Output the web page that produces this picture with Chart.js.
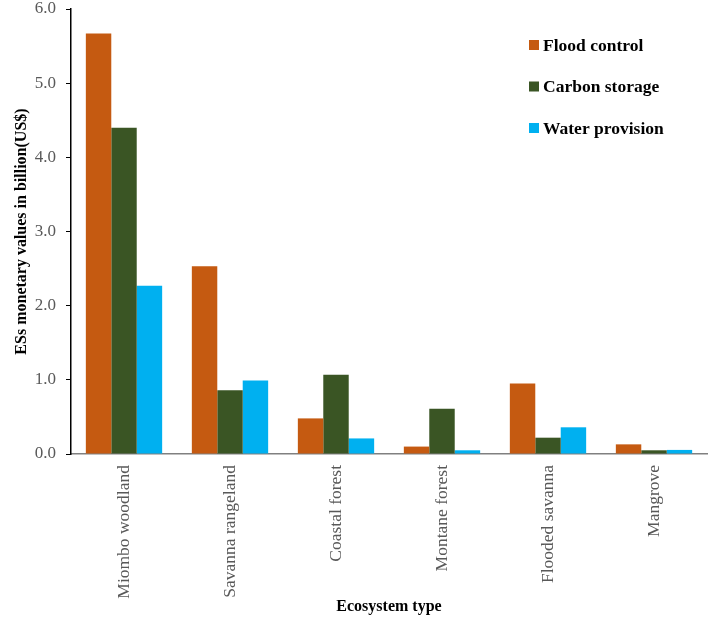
<!DOCTYPE html>
<html>
<head>
<meta charset="utf-8">
<script src="https://cdn.jsdelivr.net/npm/chart.js@4/dist/chart.umd.min.js"></script>
<style>
  html, body { margin: 0; padding: 0; background: #fff; }
  #wrap { width: 709px; height: 642px; }
</style>
</head>
<body>
<div id="wrap"><canvas id="c"></canvas></div>
<script>
// ecosystem types and ES values (billion US$)
const categories = ['Miombo woodland', 'Savanna rangeland', 'Coastal forest', 'Montane forest', 'Flooded savanna', 'Mangrove'];
const floodControl = [5.67, 2.53, 0.48, 0.10, 0.95, 0.13];
const carbonStorage = [4.40, 0.86, 1.07, 0.61, 0.22, 0.05];
const waterProvision = [2.27, 0.99, 0.21, 0.05, 0.36, 0.055];
const seriesNames = ['Flood control', 'Carbon storage', 'Water provision'];
const colors = ['#C55A11', '#3A5524', '#00B0F0'];

const serif = "'Liberation Serif', 'DejaVu Serif', serif";

// legend drawn inside the plot, upper right
const innerLegend = {
    id: 'innerLegend',
    afterDraw(chart) {
        const ctx = chart.ctx;
        const x = 529, y0 = 45, step = 41.5;
        ctx.save();
        ctx.font = 'bold 17.5px ' + serif;
        ctx.textBaseline = 'middle';
        chart.data.datasets.forEach((ds, i) => {
            const y = y0 + i * step;
            ctx.fillStyle = ds.backgroundColor;
            ctx.fillRect(x, y - 5, 10, 10);
            ctx.fillStyle = '#000';
            ctx.fillText(ds.label, x + 14, y + 1);
        });
        ctx.restore();
    }
};

new Chart(document.getElementById('c'), {
    type: 'bar',
    data: {
        labels: categories,
        datasets: [floodControl, carbonStorage, waterProvision].map((d, i) => ({
            label: seriesNames[i],
            data: d,
            backgroundColor: colors[i],
            borderWidth: 0,
            categoryPercentage: 0.72,
            barPercentage: 1.0
        }))
    },
    options: {
        responsive: true,
        maintainAspectRatio: false,
        animation: false,
        layout: { padding: { top: 9, right: 2, left: 0, bottom: 0 } },
        plugins: {
            legend: { display: false },
            tooltip: { enabled: false }
        },
        scales: {
            x: {
                grid: { display: false },
                border: { color: '#808080', width: 1.5 },
                ticks: {
                    minRotation: 90, maxRotation: 90, autoSkip: false,
                    padding: 3,
                    color: '#595959',
                    font: { family: serif, size: 17.5 }
                },
                title: {
                    display: true, text: 'Ecosystem type',
                    color: '#000',
                    font: { family: serif, size: 16, weight: 'bold' },
                    padding: { top: 0, bottom: 26 }
                },
                afterFit: s => { s.height = 188; }
            },
            y: {
                min: 0, max: 6,
                grid: { drawOnChartArea: false, drawTicks: true, tickLength: 5, color: '#000' },
                border: { color: '#000', width: 1.5 },
                ticks: {
                    stepSize: 1,
                    padding: 10,
                    color: '#595959',
                    font: { family: serif, size: 17 },
                    callback: v => Number(v).toFixed(1)
                },
                title: {
                    display: true, text: 'ESs monetary values in billion(US$)',
                    color: '#000',
                    font: { family: serif, size: 16, weight: 'bold' },
                    padding: { top: 12, bottom: 4 }
                },
                afterFit: s => { s.width = 71; s.paddingTop = 0; s.paddingBottom = 0; }
            }
        }
    },
    plugins: [innerLegend]
});
</script>
</body>
</html>
